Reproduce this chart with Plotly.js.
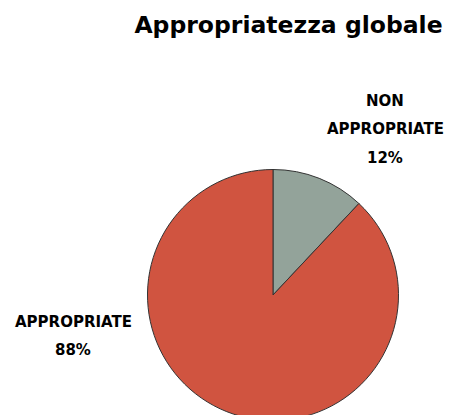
<!DOCTYPE html>
<html>
<head>
<meta charset="utf-8">
<script src="https://cdn.plot.ly/plotly-3.0.1.min.js"></script>
<style>
html, body { margin: 0; padding: 0; overflow: hidden; background: #fff; }
#chart { width: 450px; height: 430px; }
</style>
</head>
<body>
<div id="chart"></div>
<script>
const chartTitle = "Appropriatezza globale";
const categories = ["NON APPROPRIATE", "APPROPRIATE"];
const labelLines = [["NON", "APPROPRIATE"], ["APPROPRIATE"]];
const values = [12, 88];
const colors = ["#93A39A", "#D05440"];

const W = 450, H = 430;
const total = values.reduce((a, b) => a + b, 0);
const pct = values.map(v => Math.round(v / total * 100) + "%");

// top line centre (px) for each label block, and line spacing
const labelPos = [{x: 385, y: 101.5}, {x: 73, y: 321.5}];
const lineGap = 28;

const annotations = [];
labelLines.forEach((lines, i) => {
  lines.concat([pct[i]]).forEach((s, j) => {
    annotations.push({
      xref: "paper", yref: "paper",
      x: labelPos[i].x / W, y: 1 - (labelPos[i].y + j * lineGap) / H,
      xanchor: "center", yanchor: "middle",
      showarrow: false,
      text: "<b>" + s + "</b>",
      font: {family: "DejaVu Sans", size: 15, color: "#000"}
    });
  });
});

const data = [{
  type: "pie",
  labels: categories,
  values: values,
  sort: false,
  direction: "clockwise",
  rotation: 0,
  textinfo: "none",
  hoverinfo: "label+percent",
  marker: {colors: colors, line: {color: "#333333", width: 1}},
  domain: {x: [(273 - 125.5) / W, (273 + 125.5) / W], y: [1 - 420.5 / H, 1 - 169.5 / H]},
  showlegend: false
}];

const layout = {
  width: W, height: H,
  margin: {l: 0, r: 0, t: 0, b: 0},
  paper_bgcolor: "#fff",
  title: {
    text: "<b>" + chartTitle + "</b>",
    x: 288.5 / W, xanchor: "center",
    y: 1 - 25 / H, yanchor: "middle",
    font: {family: "DejaVu Sans", size: 23.5, color: "#000"}
  },
  annotations: annotations,
  showlegend: false
};

Plotly.newPlot("chart", data, layout, {displayModeBar: false, staticPlot: true});
</script>
</body>
</html>
